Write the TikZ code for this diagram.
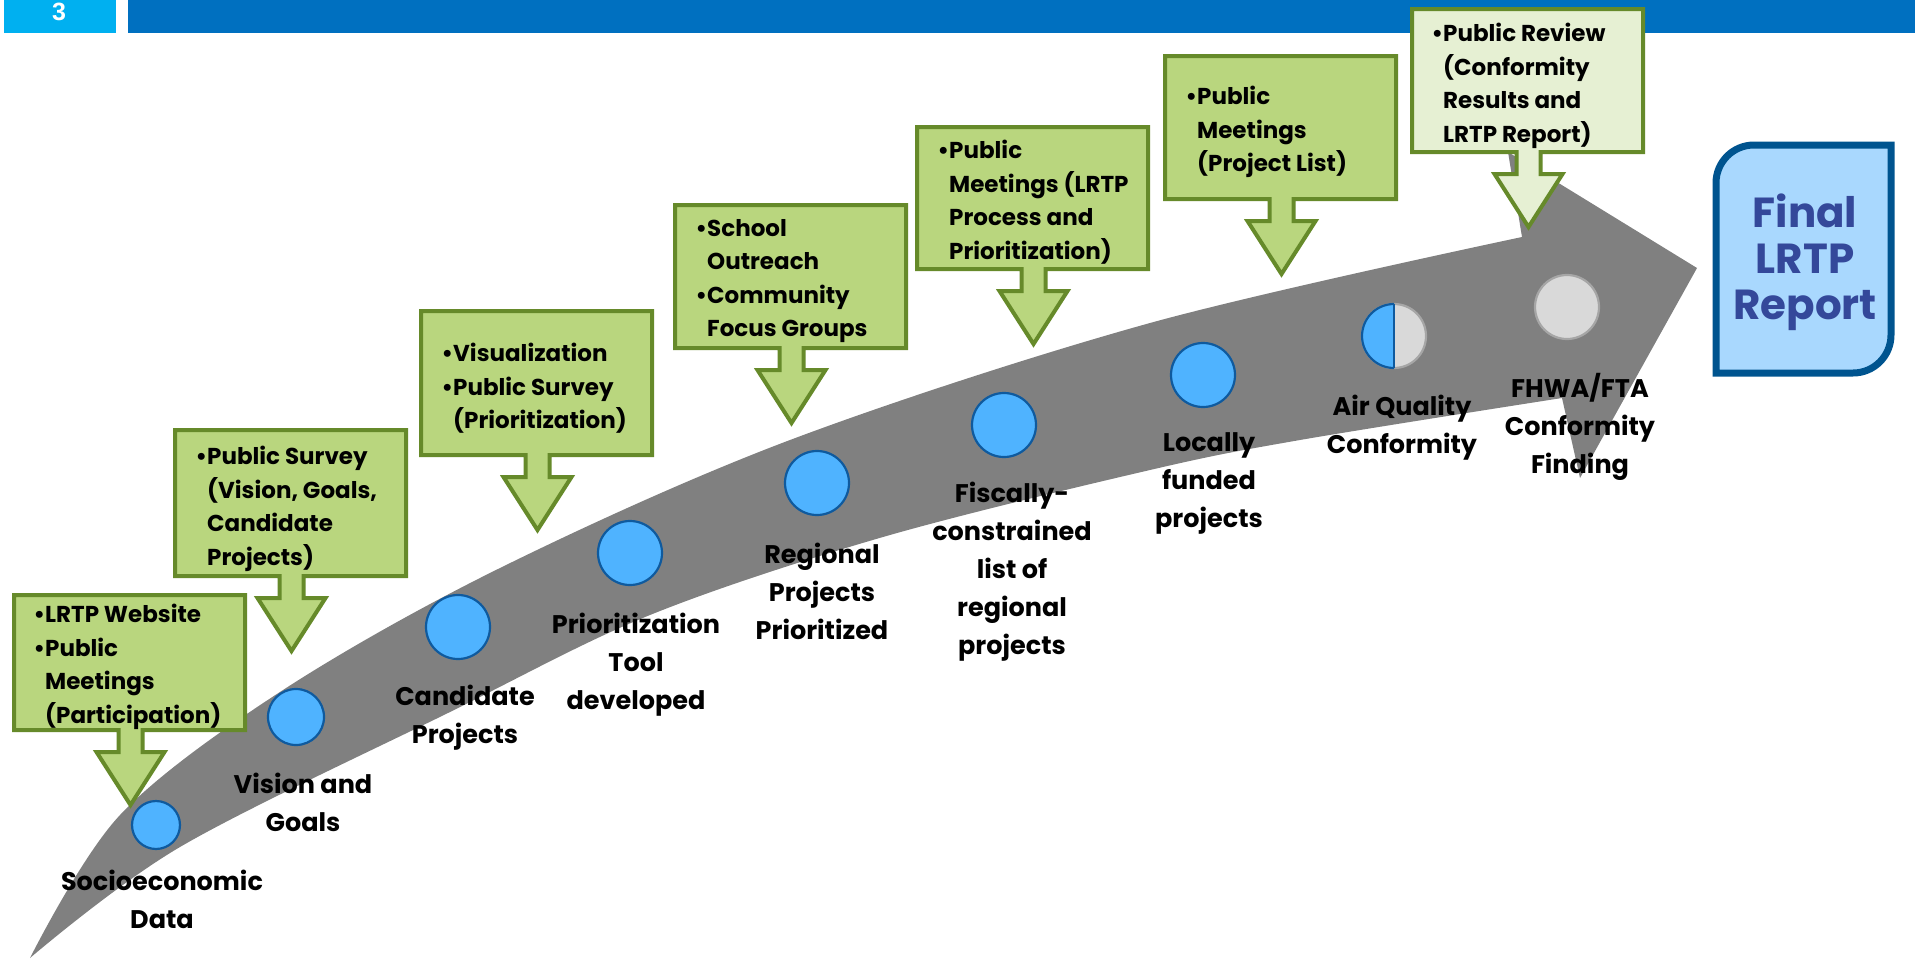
\documentclass[tikz,border=0pt]{standalone}
\usepackage{fontspec}
\setmainfont{Poppins}
\newfontfamily\hdrfont{Liberation Sans}
\definecolor{hdrlight}{HTML}{00B0F0}
\definecolor{hdrdark}{HTML}{0070C0}
\definecolor{bandgray}{HTML}{808080}
\definecolor{dotfill}{HTML}{4FB3FF}
\definecolor{dotline}{HTML}{0F5A9E}
\definecolor{greyfill}{HTML}{D9D9D9}
\definecolor{greyline}{HTML}{A6A6A6}
\definecolor{boxfill}{HTML}{B9D67E}
\definecolor{boxline}{HTML}{668A2A}
\definecolor{boxpale}{HTML}{E6F0D3}
\definecolor{finalfill}{HTML}{A9D8FE}
\definecolor{finalline}{HTML}{00548F}
\definecolor{finaltext}{HTML}{34489A}
\newcommand\callout[4]{%
  \pgfmathsetmacro\cox{#1+116.5}%
  \draw[#4] (#1,#2) -- (#1+231,#2) -- (#1+231,#3) -- (\cox+12,#3) -- (\cox+12,#3+22)
    -- (\cox+34,#3+22) -- (\cox,#3+75) -- (\cox-34,#3+22) -- (\cox-12,#3+22)
    -- (\cox-12,#3) -- (#1,#3) -- cycle;}
\begin{document}
\begin{tikzpicture}[x=1pt,y=-1pt,
  callbox/.style={fill=boxfill, draw=boxline, line width=4pt, line join=miter},
  palebox/.style={fill=boxpale, draw=boxline, line width=4pt, line join=miter},
  dot/.style={circle, fill=dotfill, draw=dotline, line width=2.2pt, inner sep=0pt},
  boxtext/.style={anchor=north west, inner sep=0pt, align=left, font=\bfseries\fontsize{23}{33.5}\selectfont},
  lbl/.style={anchor=north, inner sep=0pt, align=center, font=\bfseries\fontsize{25.5}{38}\selectfont}]
\useasboundingbox (0,0) rectangle (1915,959);
% header
\fill[hdrlight] (4,0) rectangle (116,33);
\fill[hdrdark] (128,0) rectangle (1915,33);
\node[text=white, inner sep=0pt, font=\hdrfont\bfseries\fontsize{25}{25}\selectfont] (pg) at (59,12) {3};
% band arrow
\fill[bandgray] plot[smooth, tension=0.55] coordinates {(30,958) (120,815) (283,690) (500,568) (790,440) (1150,323) (1522,237)}
  -- (1508,152) -- (1697,268) -- (1580,478) -- (1562,398)
  -- plot[smooth, tension=0.55] coordinates {(1562,398) (1300,440) (1150,470) (883,537) (650,615) (450,712) (180,847) (30,958)} -- cycle;
% milestones
\node[dot, minimum size=48pt] (c1) at (156,825) {};
\node[dot, minimum size=56pt] (c2) at (296,717) {};
\node[dot, minimum size=64pt] (c3) at (458,627) {};
\node[dot, minimum size=64pt] (c4) at (630,553) {};
\node[dot, minimum size=64pt] (c5) at (817,483) {};
\node[dot, minimum size=64pt] (c6) at (1004,425) {};
\node[dot, minimum size=64pt] (c7) at (1203,375) {};
\coordinate (c8) at (1394,336);
\fill[greyfill] (c8) circle[radius=32pt];
\draw[greyline, line width=2.2pt] (c8) circle[radius=32pt];
\begin{scope}
  \clip (1350,300) rectangle (1394,372);
  \draw[dotline, fill=dotfill, line width=2.2pt] (c8) circle[radius=32pt];
\end{scope}
\draw[dotline, line width=2.2pt] (1394,304) -- (1394,368);
\node[dot, fill=greyfill, draw=greyline, minimum size=64pt] (c9) at (1567,307) {};
% labels
\node[lbl] (l1) at (162,870) {Socioeconomic\\Data};
\node[lbl] (l2) at (303,773) {Vision and\\Goals};
\node[lbl] (l3) at (465,685) {Candidate\\Projects};
\node[lbl] (l4) at (636,613) {Prioritization\\Tool\\developed};
\node[lbl] (l5) at (822,543) {Regional\\Projects\\Prioritized};
\node[lbl] (l6) at (1012,482) {Fiscally-\\constrained\\list of\\regional\\projects};
\node[lbl] (l7) at (1209,432) {Locally\\funded\\projects};
\node[lbl] (l8) at (1402,395) {Air Quality\\Conformity};
\node[lbl] (l9) at (1580,373) {FHWA/FTA\\Conformity\\Finding};
% callouts
\callout{14}{595}{730}{callbox}
\node[boxtext] (b1) at (45,604) {\llap{•}LRTP Website\\\llap{•}Public\\Meetings\\(Participation)};
\callout{175}{430}{576}{callbox}
\node[boxtext] (b2) at (207,446) {\llap{•}Public Survey\\(Vision, Goals,\\Candidate\\Projects)};
\callout{421}{311}{455}{callbox}
\node[boxtext] (b3) at (453,343) {\llap{•}Visualization\\\llap{•}Public Survey\\(Prioritization)};
\callout{675}{205}{348}{callbox}
\node[boxtext] (b4) at (707,219) {\llap{•}School\\Outreach\\\llap{•}Community\\Focus Groups};
\callout{917}{127}{269}{callbox}
\node[boxtext] (b5) at (949,140) {\llap{•}Public\\Meetings (LRTP\\Process and\\Prioritization)};
\callout{1165}{56}{199}{callbox}
\node[boxtext] (b6) at (1197,86) {\llap{•}Public\\Meetings\\(Project List)};
\callout{1412}{9}{152}{palebox}
\node[boxtext] (b7) at (1443,23) {\llap{•}Public Review\\(Conformity\\Results and\\LRTP Report)};
% final report
\draw[finalline, fill=finalfill, line width=7pt] (1716,373) -- (1716,183) .. controls (1716,162) and (1733,145) .. (1754,145) -- (1891,145) -- (1891,335) .. controls (1891,356) and (1874,373) .. (1853,373) -- cycle;
\node[inner sep=0pt, align=center, text=finaltext, font=\bfseries\fontsize{42}{46}\selectfont] (fin) at (1805,262) {Final\\LRTP\\Report};
\end{tikzpicture}
\end{document}
